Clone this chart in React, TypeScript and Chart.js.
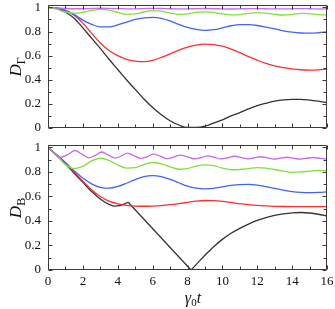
import { useEffect, useRef } from "react";
import { Chart, registerables } from "chart.js";
Chart.register(...registerables);

// ---- data ----
const T = [0, 0.5, 1, 1.5, 2, 2.5, 3, 3.5, 4, 4.5, 5, 5.5, 6, 6.5, 7, 7.5, 8, 8.5, 9, 9.5, 10, 10.5, 11, 11.5, 12, 12.5, 13, 13.5, 14, 14.5, 15, 15.5, 16];

// upper panel, D_Γ
const gammaBlack = [1, 0.99, 0.96, 0.91, 0.83, 0.745, 0.66, 0.57, 0.485, 0.4, 0.32, 0.24, 0.17, 0.11, 0.06, 0.025, 0.004, 0.004, 0.015, 0.04, 0.068, 0.1, 0.128, 0.158, 0.185, 0.205, 0.222, 0.233, 0.238, 0.238, 0.232, 0.222, 0.21];
const gammaRed = [1, 0.995, 0.975, 0.935, 0.87, 0.785, 0.705, 0.643, 0.6, 0.57, 0.555, 0.55, 0.56, 0.585, 0.615, 0.645, 0.67, 0.688, 0.695, 0.692, 0.678, 0.655, 0.625, 0.592, 0.562, 0.535, 0.515, 0.5, 0.49, 0.483, 0.48, 0.482, 0.488];
const gammaBlue = [1, 0.995, 0.975, 0.94, 0.895, 0.86, 0.838, 0.838, 0.855, 0.878, 0.9, 0.913, 0.918, 0.91, 0.888, 0.86, 0.835, 0.817, 0.81, 0.815, 0.83, 0.848, 0.858, 0.857, 0.85, 0.837, 0.822, 0.806, 0.795, 0.788, 0.786, 0.79, 0.797];
const gammaGreen = [1, 0.985, 0.962, 0.952, 0.96, 0.975, 0.984, 0.978, 0.958, 0.942, 0.946, 0.962, 0.974, 0.97, 0.953, 0.942, 0.947, 0.958, 0.963, 0.958, 0.946, 0.938, 0.941, 0.95, 0.956, 0.952, 0.943, 0.937, 0.943, 0.951, 0.948, 0.941, 0.938];
const gammaViolet = [1, 0.996, 0.992, 0.989, 0.989, 0.991, 0.993, 0.992, 0.99, 0.988, 0.988, 0.99, 0.992, 0.991, 0.989, 0.988, 0.988, 0.99, 0.991, 0.99, 0.988, 0.987, 0.988, 0.99, 0.99, 0.989, 0.988, 0.988, 0.989, 0.99, 0.989, 0.988, 0.988];

// lower panel, D_B
const bRed = [1, 0.94, 0.875, 0.8, 0.725, 0.655, 0.6, 0.562, 0.54, 0.528, 0.522, 0.52, 0.522, 0.526, 0.533, 0.542, 0.552, 0.562, 0.567, 0.566, 0.56, 0.551, 0.541, 0.533, 0.527, 0.523, 0.52, 0.518, 0.517, 0.517, 0.517, 0.517, 0.517];
const bBlue = [1, 0.94, 0.875, 0.81, 0.75, 0.703, 0.675, 0.668, 0.682, 0.708, 0.738, 0.762, 0.77, 0.762, 0.74, 0.712, 0.685, 0.668, 0.662, 0.666, 0.678, 0.69, 0.697, 0.698, 0.692, 0.68, 0.666, 0.652, 0.64, 0.633, 0.631, 0.633, 0.638];
const bGreen = [1, 0.935, 0.86, 0.828, 0.845, 0.89, 0.912, 0.895, 0.858, 0.832, 0.835, 0.86, 0.877, 0.866, 0.842, 0.822, 0.828, 0.848, 0.858, 0.851, 0.832, 0.818, 0.82, 0.828, 0.835, 0.832, 0.82, 0.806, 0.797, 0.8, 0.807, 0.812, 0.81];
const bVioletT = [0, 0.3, 0.7, 1.1, 1.55, 1.95, 2.35, 2.7, 3.08, 3.45, 3.85, 4.2, 4.55, 4.95, 5.3, 5.7, 6.05, 6.45, 6.85, 7.2, 7.6, 8.0, 8.4, 8.8, 9.15, 9.55, 9.9, 10.3, 10.7, 11.1, 11.45, 11.8, 12.2, 12.6, 12.95, 13.3, 13.7, 14.1, 14.45, 14.8, 15.2, 15.6, 16];
const bViolet = [1, 0.96, 0.918, 0.94, 0.975, 0.945, 0.915, 0.935, 0.963, 0.94, 0.913, 0.93, 0.953, 0.932, 0.911, 0.925, 0.945, 0.927, 0.909, 0.922, 0.938, 0.923, 0.907, 0.918, 0.932, 0.92, 0.906, 0.916, 0.928, 0.917, 0.906, 0.914, 0.924, 0.915, 0.905, 0.912, 0.92, 0.912, 0.905, 0.911, 0.918, 0.911, 0.905];
const bBlackT1 = [0, 0.5, 1, 1.5, 2, 2.5, 3, 3.5, 3.8, 4.1, 4.4, 4.6];
const bBlack1 = [1, 0.935, 0.865, 0.79, 0.715, 0.64, 0.58, 0.535, 0.522, 0.525, 0.54, 0.553];
const bBlackT2 = [4.6, 8.2];
const bBlack2 = [0.553, 0];
const bBlackT3 = [8.2, 8.6, 9, 9.5, 10, 10.5, 11, 11.5, 12, 12.5, 13, 13.5, 14, 14.5, 15, 15.5, 16];
const bBlack3 = [0, 0.06, 0.12, 0.19, 0.25, 0.3, 0.34, 0.375, 0.405, 0.428, 0.446, 0.458, 0.466, 0.469, 0.465, 0.455, 0.44];

const X_MIN = 0, X_MAX = 16, X_STEP = 1, X_LABEL_EVERY = 2;
const Y_MIN = 0, Y_MAX = 1.02, Y_STEP = 0.1, Y_LABEL_EVERY = 0.2;

const BLACK = "#333333";
const RED = "#ff2e2e";
const BLUE = "#4262ff";
const GREEN = "#80e03c";
const VIOLET = "#c868f4";
const FRAME = "#3a3a3a";
const FONT = "'Liberation Serif', 'DejaVu Serif', serif";

const pts = (ts: number[], vs: number[]) => ts.map((t, i) => ({ x: t, y: vs[i] }));
const isMult = (v: number, s: number) => Math.abs(v / s - Math.round(v / s)) < 1e-6;

const frameTicks = {
  id: "frameTicks",
  afterDraw(chart: any) {
    const { ctx, chartArea: a } = chart;
    const xs = chart.scales.x, ys = chart.scales.y;
    ctx.save();
    ctx.strokeStyle = FRAME;
    ctx.lineWidth = 1;
    const L = Math.round(a.left) + 0.5, R = Math.round(a.right) - 0.5;
    const Tp = Math.round(a.top) + 0.5, B = Math.round(a.bottom) - 0.5;
    ctx.beginPath();
    ctx.rect(L, Tp, R - L, B - Tp);
    xs.ticks.forEach((t: any) => {
      const p = Math.round(xs.getPixelForValue(t.value)) + 0.5;
      const len = isMult(t.value, X_LABEL_EVERY) ? 4 : 3;
      ctx.moveTo(p, B); ctx.lineTo(p, B - len);
      ctx.moveTo(p, Tp); ctx.lineTo(p, Tp + len);
    });
    ys.ticks.forEach((t: any) => {
      const p = Math.round(ys.getPixelForValue(t.value)) + 0.5;
      const len = isMult(t.value, Y_LABEL_EVERY) ? 4 : 3;
      ctx.moveTo(L, p); ctx.lineTo(L + len, p);
      ctx.moveTo(R, p); ctx.lineTo(R - len, p);
    });
    ctx.stroke();
    ctx.restore();
  },
};

function line(data: { x: number; y: number }[], color: string) {
  return {
    data,
    borderColor: color,
    borderWidth: 1.3,
    pointRadius: 0,
    fill: false,
    cubicInterpolationMode: "monotone" as const,
  };
}

function makeOptions(padTop: number, xAxisHeight: number, showX: boolean): any {
  return {
    responsive: false,
    animation: false,
    events: [],
    layout: { padding: { top: padTop, right: 8, left: 0, bottom: 0 } },
    plugins: { legend: { display: false }, tooltip: { enabled: false } },
    scales: {
      x: {
        type: "linear",
        min: X_MIN,
        max: X_MAX,
        grid: { display: false, drawTicks: false },
        border: { display: false },
        ticks: {
          display: showX,
          stepSize: X_STEP,
          autoSkip: false,
          maxRotation: 0,
          includeBounds: false,
          padding: 4,
          color: "#111",
          font: { family: FONT, size: 13 },
          callback: (v: number) => (isMult(v, X_LABEL_EVERY) ? String(Math.round(v)) : ""),
        },
        afterFit: (s: any) => {
          s.height = xAxisHeight;
          s.paddingLeft = 0; s.paddingRight = 0; s.paddingTop = 0; s.paddingBottom = 0;
        },
      },
      y: {
        type: "linear",
        min: Y_MIN,
        max: Y_MAX,
        grid: { display: false, drawTicks: false },
        border: { display: false },
        ticks: {
          stepSize: Y_STEP,
          autoSkip: false,
          includeBounds: false,
          padding: 7,
          color: "#111",
          font: { family: FONT, size: 13 },
          callback: (v: number) => {
            if (!isMult(v, Y_LABEL_EVERY)) return "";
            const r = Math.round(v * 10) / 10;
            return r === 0 ? "0" : r === 1 ? "1" : r.toFixed(1);
          },
        },
        afterFit: (s: any) => {
          s.width = 48;
          s.paddingLeft = 0; s.paddingRight = 0; s.paddingTop = 0; s.paddingBottom = 0;
        },
      },
    },
  };
}

export default function App() {
  const topRef = useRef<HTMLCanvasElement>(null);
  const botRef = useRef<HTMLCanvasElement>(null);

  useEffect(() => {
    const top = new Chart(topRef.current!, {
      type: "line",
      data: {
        datasets: [
          line(pts(T, gammaViolet), VIOLET),
          line(pts(T, gammaGreen), GREEN),
          line(pts(T, gammaBlue), BLUE),
          line(pts(T, gammaRed), RED),
          line(pts(T, gammaBlack), BLACK),
        ] as any,
      },
      options: makeOptions(5, 10, false),
      plugins: [frameTicks],
    });
    const bot = new Chart(botRef.current!, {
      type: "line",
      data: {
        datasets: [
          line(pts(bVioletT, bViolet), VIOLET),
          line(pts(T, bGreen), GREEN),
          line(pts(T, bBlue), BLUE),
          line(pts(T, bRed), RED),
          line(pts(bBlackT1, bBlack1), BLACK),
          { ...line(pts(bBlackT2, bBlack2), BLACK), cubicInterpolationMode: "default", tension: 0 },
          line(pts(bBlackT3, bBlack3), BLACK),
        ] as any,
      },
      options: makeOptions(7, 39, true),
      plugins: [frameTicks],
    });
    return () => {
      top.destroy();
      bot.destroy();
    };
  }, []);

  const titleStyle: any = {
    position: "absolute",
    transform: "translate(-50%, -50%) rotate(-90deg)",
    whiteSpace: "nowrap",
    fontFamily: FONT,
    color: "#111",
    lineHeight: 1,
  };

  return (
    <div style={{ position: "absolute", left: 0, top: 0, width: 335, height: 309, background: "#fff", overflow: "hidden" }}>
      <canvas ref={topRef} width={335} height={138} style={{ position: "absolute", left: 0, top: 0 }} />
      <canvas ref={botRef} width={335} height={171} style={{ position: "absolute", left: 0, top: 138 }} />
      <div style={{ ...titleStyle, left: 15, top: 67 }}>
        <span style={{ fontStyle: "italic", fontSize: 17 }}>D</span>
        <span style={{ fontSize: 12, position: "relative", top: 4 }}>Γ</span>
      </div>
      <div style={{ ...titleStyle, left: 15, top: 208 }}>
        <span style={{ fontStyle: "italic", fontSize: 17 }}>D</span>
        <span style={{ fontSize: 12, position: "relative", top: 4 }}>B</span>
      </div>
      <div
        style={{
          position: "absolute",
          left: 193,
          top: 298,
          transform: "translate(-50%, -50%)",
          whiteSpace: "nowrap",
          fontFamily: FONT,
          color: "#111",
          lineHeight: 1,
        }}
      >
        <span style={{ fontStyle: "italic", fontSize: 16 }}>γ</span>
        <span style={{ fontSize: 11, position: "relative", top: 3 }}>0</span>
        <span style={{ fontStyle: "italic", fontSize: 16 }}>t</span>
      </div>
    </div>
  );
}
